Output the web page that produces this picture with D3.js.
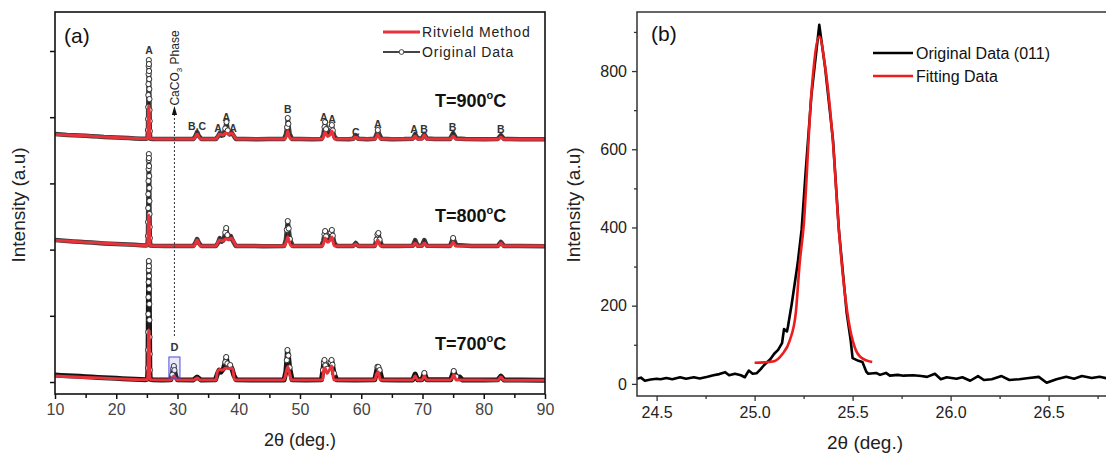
<!DOCTYPE html>
<html><head><meta charset="utf-8">
<script src="https://cdn.jsdelivr.net/npm/d3@7"></script>
<style>
body{margin:0;background:#fff}
svg{display:block;font-family:"Liberation Sans",Arial,sans-serif}
</style>
</head><body>
<svg id="chart" width="1106" height="460"></svg>
<script>
// ---------------- Panel (a) data : XRD patterns (raw counts, stacked with offsets) ----------------
const temperatures = ["700", "800", "900"];
const offsets = [0, 2000, 3600];

const obs700 = [[10,105],[11,100],[12,96],[13,92],[14,86],[15,80],[16,74],[17,70],[18,64],[19,60],[20,56],[21,50],[22,46],[23,42],[24,38],[24.8,36],
 [25.1,45],[25.18,211],[25.2,483],[25.22,755],[25.24,1027],[25.26,1283],[25.28,1510],[25.3,1691],[25.32,1827],[25.34,1751],[25.36,1600],[25.38,1404],[25.4,1178],[25.42,936],[25.44,679],[25.46,423],[25.48,181],[25.55,40],
 [26,34],[27.5,32],[28.9,34],[29.15,110],[29.3,200],[29.4,241],[29.5,180],[29.7,90],[30,34],
 [32.6,32],[33.2,75],[33.8,32],[36.2,34],
 [36.5,120],[36.8,180],[37.1,150],[37.5,200],[37.8,300],[37.95,377],[38.15,280],[38.4,230],[38.6,256],[38.9,200],[39.2,100],[39.6,34],
 [42,30],[45,30],[47.4,32],[47.7,160],[47.85,330],[47.95,483],[48.1,400],[48.3,220],[48.7,34],
 [51,30],[53.5,34],[53.75,180],[53.9,300],[54.0,332],[54.15,250],[54.45,200],[54.85,230],[55.0,300],[55.15,332],[55.3,260],[55.55,130],[56,34],
 [59,32],[62.2,36],[62.45,140],[62.65,230],[62.8,226],[63.0,180],[63.4,36],
 [66,30],[68.4,32],[68.8,120],[69.2,35],[69.9,35],[70.3,136],[70.7,35],[74.6,35],[75.1,166],[75.5,80],[76.1,75],[76.5,32],
 [80,30],[82.3,34],[82.8,90],[83.3,32],[86,30],[90,28]];
const fit700 = [[10,90],[15,68],[20,48],[24,36],[25.0,34],[25.1,36],[25.18,160],[25.22,400],[25.26,640],[25.3,770],[25.33,785],[25.37,690],[25.41,450],[25.45,200],[25.5,70],[25.6,34],
 [28.9,32],[29.4,90],[29.9,32],[32.7,32],[33.2,60],[33.7,32],[36.3,32],[36.5,150],[36.9,190],[37.3,180],[37.9,210],[38.4,200],[38.7,210],[39.0,200],[39.3,32],
 [47.4,32],[47.75,150],[48.0,226],[48.25,150],[48.6,32],[53.7,32],[53.9,200],[54.1,210],[54.4,130],[54.8,180],[55.2,241],[55.5,32],
 [62.2,32],[62.5,120],[62.8,150],[63.1,32],[68.4,32],[68.8,90],[69.2,32],[69.9,32],[70.3,90],[70.7,32],[74.6,32],[75.1,105],[75.5,32],
 [82.3,28],[82.8,75],[83.3,28],[90,26]];

const obs800 = [[10,144],[11,138],[12,130],[13,124],[14,118],[15,112],[16,106],[17,100],[18,94],[19,88],[20,84],[21,80],[22,76],[23,72],[24,66],[24.8,62],
 [25.1,70],[25.18,205],[25.2,416],[25.22,628],[25.24,839],[25.26,1036],[25.28,1217],[25.3,1353],[25.32,1443],[25.34,1383],[25.36,1262],[25.38,1111],[25.4,930],[25.42,734],[25.44,537],[25.46,341],[25.48,175],[25.55,62],
 [26,58],[28,56],[30,54],[32.6,56],[32.9,100],[33.2,160],[33.5,100],[33.9,56],
 [36.3,56],[36.6,100],[36.9,175],[37.2,120],[37.5,140],[37.8,260],[37.95,326],[38.15,220],[38.4,160],[38.7,205],[39.0,140],[39.5,56],
 [41,54],[44,52],[47.4,56],[47.7,150],[47.85,300],[48.0,431],[48.15,320],[48.35,160],[48.8,56],
 [51,54],[53.5,56],[53.8,130],[54.0,230],[54.1,280],[54.25,200],[54.5,150],[54.9,170],[55.05,260],[55.2,296],[55.35,210],[55.6,100],[56,56],
 [58.7,56],[59.1,100],[59.5,56],[62.2,56],[62.5,150],[62.65,230],[62.8,250],[63.0,150],[63.4,56],
 [66,54],[68.4,58],[68.8,145],[69.2,60],[69.9,60],[70.3,145],[70.7,60],[74.5,56],[75.0,175],[75.5,70],[78,54],
 [82.3,56],[82.8,115],[83.3,56],[86,54],[90,52]];
const fit800 = [[10,140],[15,112],[20,84],[24,66],[25.0,62],[25.1,62],[25.18,140],[25.22,280],[25.26,430],[25.3,515],[25.33,522],[25.37,460],[25.41,300],[25.45,150],[25.5,80],[25.6,60],
 [28,56],[32.7,56],[33.2,145],[33.7,56],[36.3,56],[36.6,110],[36.9,145],[37.3,130],[37.9,160],[38.4,150],[38.7,175],[39.2,120],[39.6,56],
 [47.4,56],[47.8,130],[48.0,190],[48.2,130],[48.6,56],[53.7,56],[54.1,175],[54.5,110],[54.9,140],[55.2,190],[55.6,56],
 [58.7,56],[59.1,86],[59.5,56],[62.3,56],[62.7,145],[63.1,56],[68.4,56],[68.8,100],[69.2,56],[69.9,56],[70.3,100],[70.7,56],
 [74.6,56],[75.0,115],[75.4,56],[82.4,56],[82.8,100],[83.2,56],[90,54]];

const obs900 = [[10,145],[11,140],[12,132],[13,128],[14,122],[15,118],[16,112],[17,108],[18,100],[19,96],[20,92],[21,88],[22,84],[23,80],[24,76],[24.8,74],
 [25.1,80],[25.18,206],[25.2,372],[25.22,553],[25.24,734],[25.26,900],[25.28,1052],[25.3,1172],[25.32,1263],[25.34,1203],[25.36,1097],[25.38,976],[25.4,825],[25.42,674],[25.44,508],[25.46,342],[25.48,191],[25.55,76],
 [26,72],[28,70],[29.4,72],[31,70],[32.6,72],[32.9,110],[33.2,176],[33.5,115],[33.9,72],
 [35,70],[36.3,72],[36.6,110],[36.9,160],[37.2,120],[37.5,130],[37.8,230],[38.0,327],[38.2,200],[38.5,140],[38.8,175],[39.1,130],[39.5,72],
 [41,70],[43,68],[45,70],[47.4,72],[47.7,140],[47.9,250],[48.0,387],[48.1,300],[48.3,150],[48.7,72],
 [50,70],[52,68],[53.5,72],[53.8,130],[54.0,250],[54.1,327],[54.25,220],[54.5,150],[54.9,170],[55.1,250],[55.2,281],[55.35,200],[55.6,110],[56,70],
 [58,68],[58.7,75],[59.1,130],[59.5,75],[61,68],[62.2,75],[62.5,140],[62.7,206],[62.9,150],[63.3,75],
 [65,68],[67,70],[68.4,75],[68.8,145],[69.2,80],[69.9,80],[70.3,145],[70.7,80],[72,70],[74.5,72],[75.0,160],[75.5,80],
 [77,70],[80,68],[82.3,72],[82.8,130],[83.3,72],[86,68],[90,66]];
const fit900 = [[10,140],[15,118],[20,92],[24,76],[25.0,74],[25.1,74],[25.18,150],[25.22,300],[25.26,470],[25.3,560],[25.33,568],[25.37,500],[25.41,330],[25.45,170],[25.5,90],[25.6,74],
 [28,70],[32.7,72],[33.2,145],[33.7,72],[36.3,72],[36.6,110],[36.9,145],[37.3,130],[37.9,160],[38.4,140],[38.8,160],[39.2,120],[39.6,72],
 [47.4,70],[47.8,120],[48.0,190],[48.2,120],[48.6,70],[53.7,72],[54.1,175],[54.5,110],[54.9,130],[55.2,190],[55.6,72],
 [58.7,70],[59.1,115],[59.5,70],[62.3,70],[62.7,145],[63.1,70],[68.4,70],[68.8,115],[69.2,70],[69.9,70],[70.3,130],[70.7,70],
 [74.6,70],[75.0,115],[75.4,70],[82.4,68],[82.8,100],[83.2,68],[90,66]];

// phase labels above the 900 °C pattern: [2θ, plotted intensity, text]
const phaseLabels = [[25.35,5013,"A"],[33.2,3866,"B,C"],[36.6,3835,"A"],[37.95,4002,"A"],[39.06,3835,"A"],[48.0,4122,"B"],
 [53.9,4002,"A"],[55.25,3971,"A"],[59.1,3775,"C"],[62.7,3896,"A"],[68.6,3820,"A"],[70.25,3820,"B"],[74.9,3850,"B"],[82.8,3820,"B"]];

const xTicksA = [10,20,30,40,50,60,70,80,90];
const xMinorA = [15,25,35,45,55,65,75,85];
const yTicksA = [0,1000,2000,3000,4000,5000];

// ---------------- Panel (b) data : (011) peak ----------------
const obsB = [[24.40,13],[24.42,16],[24.44,8],[24.47,11],[24.5,13],[24.52,12],[24.55,15],[24.58,12],[24.62,17],[24.65,13],[24.69,17],[24.72,14],[24.76,18],
 [24.79,22],[24.82,25],[24.85,30],[24.87,22],[24.9,26],[24.93,22],[24.95,17],[24.97,34],[24.99,26],[25.01,27],[25.03,37],[25.05,49],[25.08,63],[25.10,77],
 [25.12,87],[25.14,104],[25.15,140],[25.165,134],[25.17,146],[25.19,206],[25.22,309],[25.24,395],[25.26,539],[25.29,739],[25.33,918],[25.36,808],[25.40,624],
 [25.43,394],[25.47,181],[25.49,112],[25.50,66],[25.53,59],[25.55,56],[25.57,31],[25.58,26],[25.62,28],[25.64,23],[25.67,28],[25.69,21],[25.73,23],[25.76,21],
 [25.81,22],[25.85,20],[25.88,18],[25.92,26],[25.95,12],[25.98,17],[26.03,13],[26.06,17],[26.10,8],[26.14,20],[26.17,10],[26.21,12],[26.26,20],[26.30,10],
 [26.35,12],[26.40,15],[26.45,18],[26.49,3],[26.54,12],[26.59,18],[26.63,13],[26.67,20],[26.72,15],[26.76,18],[26.8,14]];
const fitB = [[25.0,54],[25.05,55],[25.1,58],[25.14,75],[25.18,112],[25.21,181],[25.23,309],[25.25,402],[25.29,745],[25.33,888],[25.36,811],[25.40,616],
 [25.43,394],[25.45,280],[25.48,160],[25.51,95],[25.54,69],[25.6,56]];

const xTicksB = [24.5,25.0,25.5,26.0,26.5];
const xMinorB = [24.75,25.25,25.75,26.25,26.75];
const yTicksB = [0,200,400,600,800];
const yMinorB = [100,300,500,700,900];

// ---------------- drawing ----------------
const svg = d3.select("#chart");
const RED = "#e8333a";

// ===== panel (a) =====
const xA = d3.scaleLinear([10, 90], [55, 545]);
const yA = d3.scaleLinear([-181, 5589], [394, 12]);

svg.append("clipPath").attr("id","clipA").append("rect")
  .attr("x",55).attr("y",12).attr("width",490).attr("height",382);

const gA = svg.append("g");
const plotA = gA.append("g").attr("clip-path","url(#clipA)");

const patterns = [
  {obs: obs700, fit: fit700, band: "#141414", w: 5},
  {obs: obs800, fit: fit800, band: "#3a3a3a", w: 4.5},
  {obs: obs900, fit: fit900, band: "#3a3a3a", w: 4.5}
];

function interp(arr, x){
  for (let i=1;i<arr.length;i++){
    if (x <= arr[i][0]){
      const a = arr[i-1], b = arr[i];
      return a[1] + (b[1]-a[1])*(x-a[0])/(b[0]-a[0]);
    }
  }
  return arr[arr.length-1][1];
}

patterns.forEach((p, i) => {
  const off = offsets[i];
  const line = d3.line().x(d => xA(d[0])).y(d => yA(d[1] + off));
  plotA.append("path").datum(p.obs).attr("d", line)
    .attr("fill","none").attr("stroke",p.band).attr("stroke-width",p.w)
    .attr("stroke-linejoin","round");
  plotA.append("path").datum(p.obs).attr("d", line)
    .attr("fill","none").attr("stroke","#222").attr("stroke-width",1.2);
  const marks = p.obs.filter(d => d[1] - interp(p.fit, d[0]) > 45);
  plotA.selectAll(null).data(marks).join("circle")
    .attr("cx", d => xA(d[0])).attr("cy", d => yA(d[1] + off)).attr("r", 2.6)
    .attr("fill","#fff").attr("stroke","#333").attr("stroke-width",1);
  plotA.append("path").datum(p.fit).attr("d", line.curve(d3.curveMonotoneX))
    .attr("fill","none").attr("stroke",RED).attr("stroke-width",3)
    .attr("stroke-linejoin","round");
});

// axes (a)
const axA = gA.append("g").attr("transform","translate(0,394)");
axA.call(d3.axisBottom(xA).tickValues(xTicksA).tickSize(5).tickPadding(5).tickFormat(d3.format("d")));
axA.append("g").call(d3.axisBottom(xA).tickValues(xMinorA).tickSize(4).tickFormat(""));
const ayA = gA.append("g").attr("transform","translate(55,0)");
ayA.call(d3.axisLeft(yA).tickValues(yTicksA).tickSize(5).tickFormat(""));
gA.selectAll(".domain").remove();
gA.selectAll(".tick line").attr("stroke","#111").attr("stroke-width",1.5);
axA.selectAll("text").attr("font-size",16).attr("fill","#444").attr("font-family","Liberation Sans, Arial");
gA.append("rect").attr("x",55).attr("y",12).attr("width",490).attr("height",382)
  .attr("fill","none").attr("stroke","#111").attr("stroke-width",1.6);

// phase labels
gA.selectAll(null).data(phaseLabels).join("text")
  .attr("x", d => xA(d[0])).attr("y", d => yA(d[1])).attr("dy","0.35em")
  .attr("text-anchor","middle").attr("font-size",10.5).attr("font-weight","bold").attr("fill","#333")
  .text(d => d[2]);

// CaCO3 dotted arrow and D box
const xArrow = xA(29.5);
gA.append("line").attr("x1",xArrow).attr("x2",xArrow).attr("y1",336).attr("y2",112)
  .attr("stroke","#333").attr("stroke-width",1).attr("stroke-dasharray","2,2");
gA.append("path").attr("d",`M${xArrow-2.6},${115} L${xArrow},${106} L${xArrow+2.6},${115} Z`).attr("fill","#111");
const capT = gA.append("text").attr("transform",`translate(${xArrow+5},68) rotate(-90)`)
  .attr("text-anchor","middle").attr("font-size",12).attr("fill","#222");
capT.append("tspan").text("CaCO");
capT.append("tspan").attr("font-size",8).attr("dy",3).text("3");
capT.append("tspan").attr("dy",-3).text(" Phase");
gA.append("rect").attr("x",xA(28.6)).attr("y",yA(378+offsets[0])).attr("width",xA(30.4)-xA(28.6))
  .attr("height",yA(60)-yA(378)).attr("fill","rgba(110,110,230,0.15)").attr("stroke","#4b4bd8").attr("stroke-width",1);
gA.append("text").attr("x",xA(29.5)).attr("y",yA(528)).attr("dy","0.35em").attr("text-anchor","middle")
  .attr("font-size",11).attr("font-weight","bold").attr("fill","#333").text("D");

// temperature labels
const tempY = [350, 222, 107];
temperatures.forEach((t, i) => {
  const tt = gA.append("text").attr("x",435).attr("y",tempY[i]).attr("font-size",18).attr("font-weight","bold").attr("fill","#111");
  tt.append("tspan").text("T=" + t);
  tt.append("tspan").attr("font-size",11).attr("dy",-8).text("o");
  tt.append("tspan").attr("dy",8).text("C");
});

// legend (a)
gA.append("line").attr("x1",383).attr("x2",420).attr("y1",32).attr("y2",32).attr("stroke",RED).attr("stroke-width",3);
gA.append("text").attr("x",422).attr("y",37).attr("font-size",14).attr("letter-spacing",0.8).attr("fill","#222").text("Ritvield Method");
gA.append("line").attr("x1",383).attr("x2",420).attr("y1",52).attr("y2",52).attr("stroke","#444").attr("stroke-width",2.2);
gA.append("circle").attr("cx",401.5).attr("cy",52).attr("r",2.4).attr("fill","#fff").attr("stroke","#444").attr("stroke-width",1);
gA.append("text").attr("x",422).attr("y",57).attr("font-size",14).attr("letter-spacing",0.8).attr("fill","#222").text("Original Data");

gA.append("text").attr("x",64).attr("y",43).attr("font-size",21).attr("fill","#111").text("(a)");
gA.append("text").attr("x",300).attr("y",446).attr("text-anchor","middle").attr("font-size",18).attr("fill","#222").text("2θ (deg.)");
gA.append("text").attr("transform","translate(25,205) rotate(-90)").attr("text-anchor","middle")
  .attr("font-size",19).attr("fill","#222").text("Intensity (a.u)");

// ===== panel (b) =====
const xB = d3.scaleLinear([24.4, 26.8], [637, 1107.4]);
const yB = d3.scaleLinear([-31, 951], [396, 12]);
svg.append("clipPath").attr("id","clipB").append("rect")
  .attr("x",637).attr("y",12).attr("width",472).attr("height",384);
const gB = svg.append("g");
const plotB = gB.append("g").attr("clip-path","url(#clipB)");
const lineB = d3.line().x(d => xB(d[0])).y(d => yB(d[1]));
plotB.append("path").datum(obsB).attr("d", lineB).attr("fill","none").attr("stroke","#000")
  .attr("stroke-width",2.6).attr("stroke-linejoin","round");
plotB.append("path").datum(fitB).attr("d", lineB.curve(d3.curveMonotoneX)).attr("fill","none").attr("stroke","#ee1c1c")
  .attr("stroke-width",2.6).attr("stroke-linejoin","round");

const axB = gB.append("g").attr("transform","translate(0,396)");
axB.call(d3.axisBottom(xB).tickValues(xTicksB).tickSize(5).tickPadding(6).tickFormat(d3.format(".1f")));
axB.append("g").call(d3.axisBottom(xB).tickValues(xMinorB).tickSize(3).tickFormat(""));
const ayB = gB.append("g").attr("transform","translate(637,0)");
ayB.call(d3.axisLeft(yB).tickValues(yTicksB).tickSize(5).tickPadding(5).tickFormat(d3.format("d")));
ayB.append("g").call(d3.axisLeft(yB).tickValues(yMinorB).tickSize(3).tickFormat(""));
gB.selectAll(".domain").remove();
gB.selectAll(".tick line").attr("stroke","#333").attr("stroke-width",1.3);
gB.selectAll(".tick text").attr("font-size",16).attr("fill","#222").attr("font-family","Liberation Sans, Arial");
gB.append("rect").attr("x",637).attr("y",12).attr("width",475).attr("height",384)
  .attr("fill","none").attr("stroke","#333").attr("stroke-width",1.5);

gB.append("line").attr("x1",873).attr("x2",913).attr("y1",53).attr("y2",53).attr("stroke","#000").attr("stroke-width",2.6);
gB.append("text").attr("x",916).attr("y",59).attr("font-size",16).attr("fill","#111").text("Original Data (011)");
gB.append("line").attr("x1",873).attr("x2",913).attr("y1",76).attr("y2",76).attr("stroke","#ee1c1c").attr("stroke-width",2.6);
gB.append("text").attr("x",916).attr("y",82).attr("font-size",16).attr("fill","#111").text("Fitting Data");

gB.append("text").attr("x",651).attr("y",41).attr("font-size",21).attr("fill","#111").text("(b)");
gB.append("text").attr("x",865).attr("y",449).attr("text-anchor","middle").attr("font-size",19).attr("fill","#222").text("2θ (deg.)");
gB.append("text").attr("transform","translate(580,205) rotate(-90)").attr("text-anchor","middle")
  .attr("font-size",19).attr("fill","#222").text("Intensity (a.u)");
</script>
</body></html>
